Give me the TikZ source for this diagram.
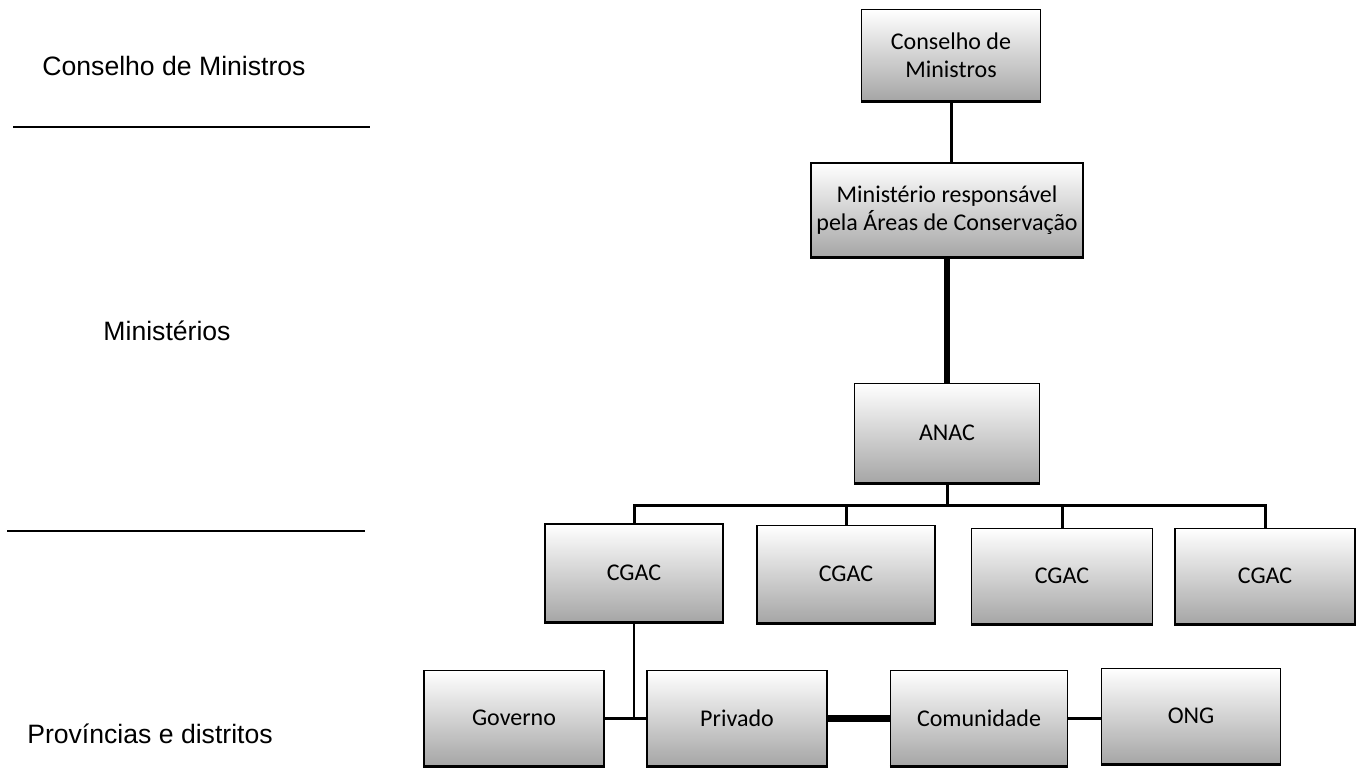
\documentclass[tikz,border=0pt]{standalone}
\usepackage{fontspec}
\setmainfont{Liberation Sans}
\newfontfamily\boxfont{Carlito}
\tikzset{
  orgbox/.style={draw=black, line width=0.7pt, inner sep=0pt,
    top color=white, middle color=black!10, bottom color=black!35,
    align=center, font=\boxfont\fontsize{12}{14}\selectfont, text=black},
  sidelabel/.style={anchor=base, inner sep=0pt, font=\fontsize{13.3}{16}\selectfont},
  sepline/.style={line width=1pt},
  thinlink/.style={line width=1.5pt},
  thicklink/.style={line width=3pt},
}
\begin{document}
\begin{tikzpicture}[x=0.5pt,y=-0.5pt]
\useasboundingbox (0,0) rectangle (1359,767);
% left side labels
\node[sidelabel] (lcm) at (174,75) {Conselho de Ministros};
\node[sidelabel] (lmin) at (167,340) {Ministérios};
\node[sidelabel] (lprov) at (150,743) {Províncias e distritos};
\coordinate (s1a) at (13,127); \coordinate (s1b) at (370,127);
\coordinate (s2a) at (7,531); \coordinate (s2b) at (365,531);
\draw[sepline] (s1a) -- (s1b);
\draw[sepline] (s2a) -- (s2b);
% boxes
\node[orgbox, minimum width=89.5pt, minimum height=45.5pt] (cm) at (951,55) {Conselho de\\Ministros};
\node[orgbox, minimum width=136pt, minimum height=47pt] (mr) at (947,210) {Ministério responsável\\pela Áreas de Conservação};
\node[orgbox, minimum width=92.5pt, minimum height=49.5pt] (anac) at (947,433) {ANAC};
\node[orgbox, minimum width=89pt, minimum height=49pt] (c1) at (634,573) {CGAC};
\node[orgbox, minimum width=89pt, minimum height=48.5pt] (c2) at (846,574) {CGAC};
\node[orgbox, minimum width=90.5pt, minimum height=47.5pt] (c3) at (1062,576) {CGAC};
\node[orgbox, minimum width=90pt, minimum height=47.5pt] (c4) at (1265,576) {CGAC};
\node[orgbox, minimum width=90pt, minimum height=47.5pt] (gov) at (514,718) {Governo};
\node[orgbox, minimum width=90pt, minimum height=47.5pt] (priv) at (737,718) {Privado};
\node[orgbox, minimum width=88.5pt, minimum height=47.5pt] (com) at (979,718) {Comunidade};
\node[orgbox, minimum width=89.5pt, minimum height=47.5pt] (ong) at (1191,716) {ONG};
\foreach \n in {cm,mr,anac,c1,c2,c3,c4,gov,priv,com,ong}
  \draw[line width=1.6pt] (\n.south west) -- (\n.south east);
% connectors
\coordinate (bus) at (947,505);
\draw[thinlink] (cm.south) -- (cm.south |- mr.north);
\draw[thicklink] (mr.south) -- (anac.north);
\draw[thinlink] (anac.south) -- (anac.south |- bus);
\draw[thinlink] (c1.north) -- (c1.north |- bus) -- (c4.north |- bus) -- (c4.north);
\draw[thinlink] (c2.north) -- (c2.north |- bus);
\draw[thinlink] (c3.north) -- (c3.north |- bus);
\draw[line width=1pt] (c1.south) -- (c1.south |- gov.east);
\draw[thinlink] (gov.east) -- (priv.west);
\draw[line width=3.5pt] (priv.east) -- (com.west);
\draw[thinlink] (com.east) -- (com.east -| ong.west);
\end{tikzpicture}
\end{document}
